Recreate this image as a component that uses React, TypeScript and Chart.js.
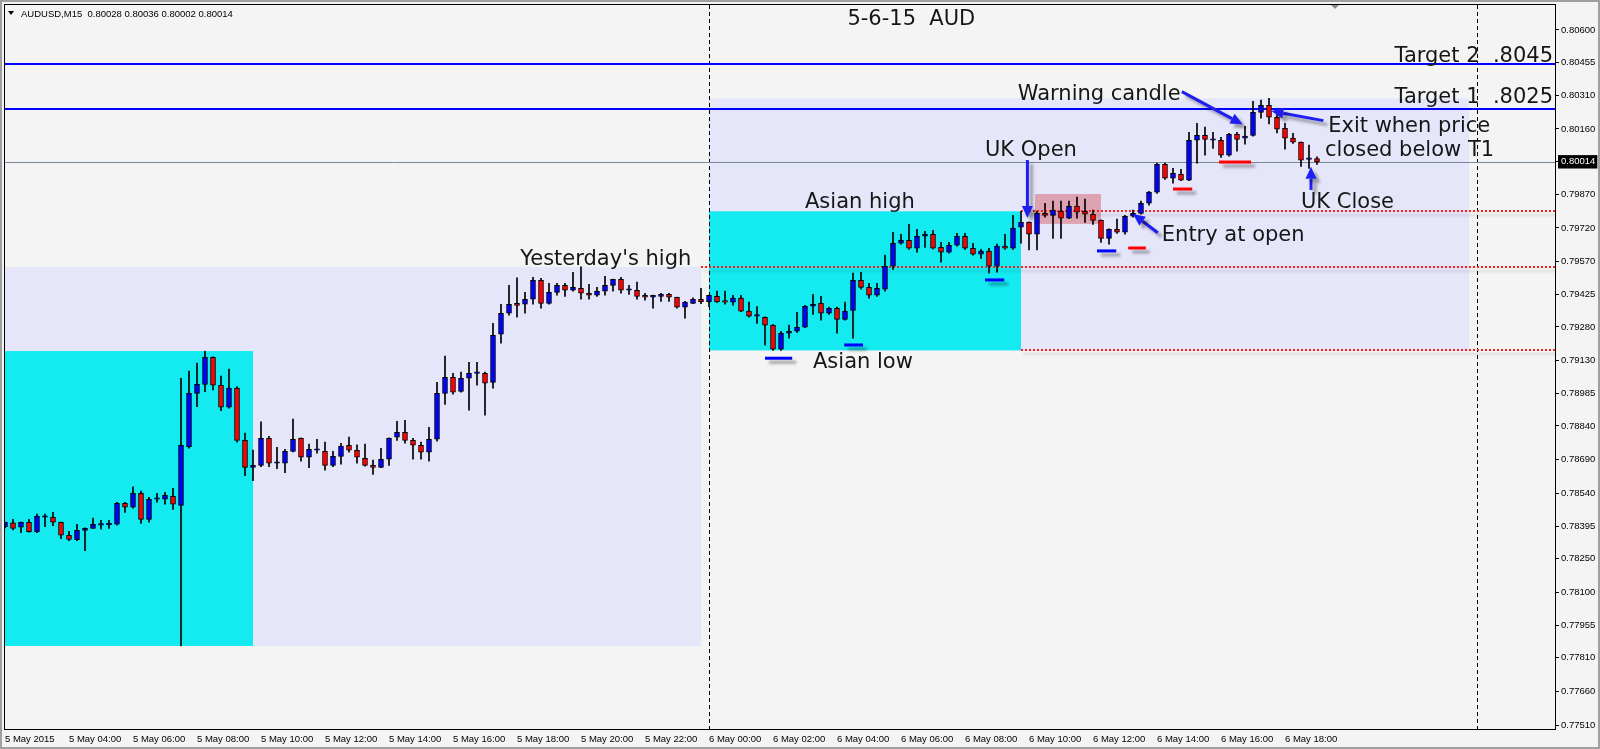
import { useEffect, useRef } from 'react';
import { Chart, registerables } from 'chart.js';

Chart.register(...registerables);

// ---- Data: AUDUSD M15, 5 May 2015 02:00 .. 6 May 2015 19:00 (index = 15-min bar) ----
const symbol = 'AUDUSD,M15';
const chartTitle = '5-6-15  AUD';

const opens = [
  0.78392, 0.78409, 0.78390, 0.78412, 0.78369, 0.78434, 0.78434, 0.78412, 0.78354, 0.78335,
  0.78376, 0.78385, 0.78399, 0.78400, 0.78403, 0.78496, 0.78479, 0.78541, 0.78425, 0.78514,
  0.78514, 0.78527, 0.78487, 0.78748, 0.78985, 0.79025, 0.79145, 0.79021, 0.78923, 0.79008,
  0.78776, 0.78656, 0.78664, 0.78785, 0.78674, 0.78674, 0.78727, 0.78785, 0.78701, 0.78732,
  0.78727, 0.78665, 0.78705, 0.78754, 0.78732, 0.78696, 0.78665, 0.78656, 0.78692, 0.78790,
  0.78812, 0.78776, 0.78754, 0.78723, 0.78781, 0.78985, 0.79056, 0.78994, 0.79052, 0.79074,
  0.79074, 0.79034, 0.79248, 0.79341, 0.79385, 0.79381, 0.79403, 0.79487, 0.79385, 0.79434,
  0.79465, 0.79443, 0.79452, 0.79430, 0.79421, 0.79439, 0.79465, 0.79492, 0.79443, 0.79443,
  0.79421, 0.79412, 0.79416, 0.79425, 0.79412, 0.79368, 0.79385, 0.79403, 0.79392, 0.79416,
  0.79394, 0.79390, 0.79408, 0.79350, 0.79328, 0.79323, 0.79288, 0.79181, 0.79252, 0.79261,
  0.79279, 0.79372, 0.79385, 0.79341, 0.79363, 0.79314, 0.79354, 0.79487, 0.79456, 0.79421,
  0.79448, 0.79550, 0.79652, 0.79665, 0.79630, 0.79683, 0.79692, 0.79634, 0.79612, 0.79643,
  0.79683, 0.79630, 0.79603, 0.79617, 0.79550, 0.79639, 0.79630, 0.79723, 0.79745, 0.79692,
  0.79785, 0.79776, 0.79794, 0.79763, 0.79817, 0.79794, 0.79781, 0.79754, 0.79674, 0.79714,
  0.79701, 0.79772, 0.79785, 0.79830, 0.79879, 0.80003, 0.79941, 0.79959, 0.79932, 0.80110,
  0.80132, 0.80110, 0.80110, 0.80043, 0.80136, 0.80119, 0.80131, 0.80234, 0.80265, 0.80212,
  0.80163, 0.80119, 0.80101, 0.80025, 0.80028,
];

const highs = [
  0.78413, 0.78425, 0.78413, 0.78425, 0.78448, 0.78448, 0.78456, 0.78413, 0.78372, 0.78403,
  0.78387, 0.78430, 0.78421, 0.78421, 0.78501, 0.78501, 0.78569, 0.78550, 0.78523, 0.78541,
  0.78545, 0.78563, 0.79052, 0.79084, 0.79119, 0.79173, 0.79147, 0.79062, 0.79093, 0.79015,
  0.78808, 0.78733, 0.78858, 0.78794, 0.78745, 0.78736, 0.78870, 0.78787, 0.78759, 0.78781,
  0.78768, 0.78727, 0.78763, 0.78790, 0.78756, 0.78759, 0.78688, 0.78741, 0.78787, 0.78861,
  0.78865, 0.78785, 0.78768, 0.78834, 0.79034, 0.79151, 0.79074, 0.79079, 0.79123, 0.79123,
  0.79079, 0.79296, 0.79381, 0.79465, 0.79498, 0.79434, 0.79501, 0.79496, 0.79474, 0.79474,
  0.79474, 0.79523, 0.79547, 0.79470, 0.79456, 0.79505, 0.79493, 0.79501, 0.79465, 0.79479,
  0.79430, 0.79422, 0.79430, 0.79430, 0.79413, 0.79394, 0.79409, 0.79452, 0.79422, 0.79439,
  0.79439, 0.79421, 0.79421, 0.79390, 0.79370, 0.79325, 0.79290, 0.79261, 0.79288, 0.79345,
  0.79376, 0.79425, 0.79416, 0.79368, 0.79368, 0.79390, 0.79519, 0.79523, 0.79474, 0.79474,
  0.79599, 0.79701, 0.79692, 0.79736, 0.79714, 0.79705, 0.79710, 0.79656, 0.79656, 0.79696,
  0.79696, 0.79652, 0.79625, 0.79630, 0.79648, 0.79692, 0.79776, 0.79794, 0.79747, 0.79794,
  0.79830, 0.79839, 0.79839, 0.79839, 0.79857, 0.79848, 0.79799, 0.79756, 0.79716, 0.79759,
  0.79776, 0.79799, 0.79839, 0.79883, 0.80008, 0.80008, 0.79985, 0.79981, 0.80145, 0.80185,
  0.80168, 0.80145, 0.80123, 0.80141, 0.80145, 0.80172, 0.80283, 0.80288, 0.80296, 0.80230,
  0.80185, 0.80141, 0.80103, 0.80088, 0.80036,
];

const lows = [
  0.78387, 0.78378, 0.78366, 0.78368, 0.78366, 0.78392, 0.78397, 0.78339, 0.78330, 0.78330,
  0.78286, 0.78383, 0.78381, 0.78384, 0.78399, 0.78456, 0.78474, 0.78407, 0.78412, 0.78501,
  0.78492, 0.78469, 0.77862, 0.78741, 0.78926, 0.78992, 0.79000, 0.78908, 0.78919, 0.78768,
  0.78619, 0.78597, 0.78659, 0.78659, 0.78650, 0.78632, 0.78725, 0.78683, 0.78655, 0.78719,
  0.78643, 0.78659, 0.78670, 0.78723, 0.78674, 0.78661, 0.78625, 0.78654, 0.78665, 0.78776,
  0.78763, 0.78692, 0.78692, 0.78683, 0.78772, 0.78936, 0.78981, 0.78990, 0.78910, 0.79021,
  0.78888, 0.79008, 0.79208, 0.79332, 0.79323, 0.79341, 0.79381, 0.79363, 0.79381, 0.79421,
  0.79416, 0.79439, 0.79403, 0.79403, 0.79416, 0.79421, 0.79439, 0.79430, 0.79425, 0.79403,
  0.79399, 0.79363, 0.79394, 0.79394, 0.79363, 0.79319, 0.79383, 0.79383, 0.79370, 0.79388,
  0.79381, 0.79376, 0.79348, 0.79323, 0.79296, 0.79199, 0.79176, 0.79176, 0.79230, 0.79256,
  0.79277, 0.79336, 0.79310, 0.79336, 0.79252, 0.79310, 0.79230, 0.79448, 0.79408, 0.79416,
  0.79439, 0.79536, 0.79648, 0.79625, 0.79612, 0.79634, 0.79627, 0.79568, 0.79608, 0.79639,
  0.79625, 0.79599, 0.79585, 0.79519, 0.79523, 0.79625, 0.79625, 0.79652, 0.79622, 0.79622,
  0.79768, 0.79674, 0.79674, 0.79761, 0.79763, 0.79745, 0.79736, 0.79656, 0.79648, 0.79696,
  0.79692, 0.79768, 0.79781, 0.79821, 0.79874, 0.79936, 0.79919, 0.79930, 0.79930, 0.80008,
  0.80043, 0.80074, 0.80034, 0.80039, 0.80061, 0.80092, 0.80128, 0.80208, 0.80182, 0.80142,
  0.80070, 0.80096, 0.79994, 0.79985, 0.80002,
];

const closes = [
  0.78412, 0.78384, 0.78412, 0.78370, 0.78439, 0.78439, 0.78412, 0.78354, 0.78336, 0.78376,
  0.78385, 0.78403, 0.78403, 0.78401, 0.78496, 0.78479, 0.78541, 0.78425, 0.78514, 0.78515,
  0.78532, 0.78492, 0.78754, 0.78985, 0.79025, 0.79145, 0.79021, 0.78923, 0.79008, 0.78776,
  0.78656, 0.78665, 0.78785, 0.78674, 0.78675, 0.78727, 0.78781, 0.78701, 0.78736, 0.78736,
  0.78665, 0.78705, 0.78750, 0.78732, 0.78701, 0.78665, 0.78656, 0.78692, 0.78785, 0.78812,
  0.78776, 0.78754, 0.78723, 0.78781, 0.78985, 0.79056, 0.78990, 0.79052, 0.79074, 0.79079,
  0.79030, 0.79243, 0.79341, 0.79381, 0.79376, 0.79403, 0.79487, 0.79385, 0.79434, 0.79465,
  0.79443, 0.79456, 0.79430, 0.79421, 0.79439, 0.79465, 0.79492, 0.79443, 0.79444, 0.79416,
  0.79412, 0.79421, 0.79425, 0.79412, 0.79368, 0.79390, 0.79403, 0.79392, 0.79421, 0.79392,
  0.79390, 0.79408, 0.79350, 0.79328, 0.79329, 0.79288, 0.79181, 0.79252, 0.79261, 0.79279,
  0.79372, 0.79381, 0.79341, 0.79363, 0.79314, 0.79350, 0.79487, 0.79456, 0.79421, 0.79452,
  0.79550, 0.79652, 0.79665, 0.79630, 0.79683, 0.79692, 0.79630, 0.79612, 0.79643, 0.79683,
  0.79630, 0.79603, 0.79617, 0.79550, 0.79639, 0.79630, 0.79719, 0.79745, 0.79692, 0.79785,
  0.79776, 0.79799, 0.79763, 0.79817, 0.79790, 0.79781, 0.79754, 0.79674, 0.79714, 0.79701,
  0.79772, 0.79785, 0.79830, 0.79879, 0.80003, 0.79941, 0.79963, 0.79932, 0.80110, 0.80132,
  0.80114, 0.80111, 0.80043, 0.80136, 0.80114, 0.80128, 0.80234, 0.80265, 0.80212, 0.80159,
  0.80119, 0.80101, 0.80021, 0.80026, 0.80014,
];

// x axis (bar index) labels
const xTickIndex = [0, 8, 16, 24, 32, 40, 48, 56, 64, 72, 80, 88, 96, 104, 112, 120, 128, 136, 144, 152, 160];
const xTickLabels = [
  '5 May 2015', '5 May 04:00', '5 May 06:00', '5 May 08:00', '5 May 10:00', '5 May 12:00',
  '5 May 14:00', '5 May 16:00', '5 May 18:00', '5 May 20:00', '5 May 22:00', '6 May 00:00',
  '6 May 02:00', '6 May 04:00', '6 May 06:00', '6 May 08:00', '6 May 10:00', '6 May 12:00',
  '6 May 14:00', '6 May 16:00', '6 May 18:00',
];
const xMin = 0;
const xMax = 193.75;

// y axis price labels
const yTickValues = [
  0.806, 0.80455, 0.8031, 0.8016, 0.80014, 0.7987, 0.7972, 0.7957, 0.79425, 0.7928, 0.7913,
  0.78985, 0.7884, 0.7869, 0.7854, 0.78395, 0.7825, 0.781, 0.77955, 0.7781, 0.7766, 0.7751,
];
const yMin = 0.77493;
const yMax = 0.80711;
const lastPrice = 0.80014;

// day separators (bar index)
const separatorIndex = [88, 184];

// rectangles: session ranges
const boxStart = [-8, 88, -8, 88, 128.75];
const boxEnd = [87, 183, 31, 127, 137];
const boxHigh = [0.79547, 0.80296, 0.79173, 0.79794, 0.79871];
const boxLow = [0.77862, 0.79176, 0.77862, 0.79176, 0.79738];
const boxColor = ['#E6E6FA', '#E6E6FA', '#14EBF1', '#14EBF1', '#DEA3B3'];

// horizontal levels
const levelPrice = [0.8045, 0.8025, 0.80014, 0.79794, 0.79547, 0.79176];
const levelFrom = [xMin, xMin, xMin, 127, 87, 127];
const levelColor = ['#0000FF', '#0000FF', '#778899', '#FF1E1E', '#FF1E1E', '#FF1E1E'];
const levelWidth = [2, 2, 1, 2, 2, 2];
const levelDotted = [false, false, false, true, true, true];

// short marker lines under candles
const markerStart = [95, 104.9, 122.5, 136.5, 140.4, 146, 151.75];
const markerEnd = [98.4, 107.25, 124.9, 138.9, 142.6, 148.4, 155.75];
const markerPrice = [0.79141, 0.792, 0.79489, 0.79618, 0.79631, 0.79893, 0.80013];
const markerColor = ['#0000FF', '#0000FF', '#0000FF', '#0000FF', '#FF0000', '#FF0000', '#FF0000'];

// arrows (tail -> head)
const arrowX0 = [127.8, 144.1, 147.1, 164.8, 163.25];
const arrowP0 = [0.80022, 0.79699, 0.80326, 0.80197, 0.79889];
const arrowX1 = [127.8, 141.0, 154.7, 158.3, 163.25];
const arrowP1 = [0.79764, 0.79782, 0.80181, 0.8024, 0.79992];

// text annotations
const noteText = [
  chartTitle, "Yesterday's high", 'Asian high', 'Asian low', 'UK Open', 'Warning candle',
  'Entry at open', 'Target 2  .8045', 'Target 1  .8025', 'Exit when price', 'closed below T1', 'UK Close',
];
const noteX = [105.3, 64.4, 100, 101, 122.5, 126.6, 144.6, 193.5, 193.5, 165.4, 165, 162];
const noteP = [0.80622, 0.79556, 0.79809, 0.79098, 0.8004, 0.80287, 0.79664, 0.80459, 0.80274, 0.80148, 0.8004, 0.79808];
const noteAlign = ['left', 'left', 'left', 'left', 'left', 'left', 'left', 'right', 'right', 'left', 'left', 'left'];

const BG = '#F4F4F4';
const NOTE_FONT = '21px "DejaVu Sans"';
const AXIS_FONT = 'Liberation Sans';

function drawArrow(ctx: CanvasRenderingContext2D, x0: number, y0: number, x1: number, y1: number) {
  const ang = Math.atan2(y1 - y0, x1 - x0);
  const hl = 12;
  const hw = 5.5;
  const bx = x1 - hl * Math.cos(ang);
  const by = y1 - hl * Math.sin(ang);
  ctx.beginPath();
  ctx.moveTo(x0, y0);
  ctx.lineTo(bx, by);
  ctx.stroke();
  ctx.beginPath();
  ctx.moveTo(x1, y1);
  ctx.lineTo(bx + hw * Math.sin(ang), by - hw * Math.cos(ang));
  ctx.lineTo(bx - hw * Math.sin(ang), by + hw * Math.cos(ang));
  ctx.closePath();
  ctx.fill();
}

const annotationPlugin = {
  id: 'mt4Annotations',
  beforeDraw(chart: any) {
    const { ctx, width, height } = chart;
    ctx.save();
    ctx.fillStyle = BG;
    ctx.fillRect(0, 0, width, height);
    ctx.restore();
  },
  beforeDatasetsDraw(chart: any) {
    const { ctx, chartArea: a, scales } = chart;
    const xs = scales.x;
    const ys = scales.y;
    ctx.save();
    ctx.beginPath();
    ctx.rect(a.left, a.top, a.right - a.left, a.bottom - a.top);
    ctx.clip();
    for (let i = 0; i < boxStart.length; i++) {
      const x0 = xs.getPixelForValue(boxStart[i]);
      const x1 = xs.getPixelForValue(boxEnd[i]);
      const y0 = ys.getPixelForValue(boxHigh[i]);
      const y1 = ys.getPixelForValue(boxLow[i]);
      ctx.fillStyle = boxColor[i];
      ctx.fillRect(x0, y0, x1 - x0, y1 - y0);
    }
    ctx.strokeStyle = '#000';
    ctx.lineWidth = 1;
    ctx.setLineDash([4, 3]);
    for (const s of separatorIndex) {
      const x = Math.round(xs.getPixelForValue(s)) + 0.5;
      ctx.beginPath();
      ctx.moveTo(x, a.top);
      ctx.lineTo(x, a.bottom);
      ctx.stroke();
    }
    ctx.setLineDash([]);
    for (let i = 0; i < levelPrice.length; i++) {
      const y = ys.getPixelForValue(levelPrice[i]);
      const x0 = Math.max(a.left, xs.getPixelForValue(levelFrom[i]));
      ctx.save();
      ctx.strokeStyle = levelColor[i];
      ctx.lineWidth = levelWidth[i];
      if (levelDotted[i]) {
        ctx.setLineDash([2, 2]);
        ctx.shadowColor = 'rgba(0,0,0,0.22)';
        ctx.shadowBlur = 3;
        ctx.shadowOffsetX = 3;
        ctx.shadowOffsetY = 4;
      }
      const yy = levelWidth[i] % 2 === 1 ? Math.round(y) + 0.5 : Math.round(y);
      ctx.beginPath();
      ctx.moveTo(x0, yy);
      ctx.lineTo(a.right, yy);
      ctx.stroke();
      ctx.restore();
    }
    ctx.restore();
  },
  afterDatasetsDraw(chart: any) {
    const { ctx, chartArea: a, scales } = chart;
    const xs = scales.x;
    const ys = scales.y;
    ctx.save();
    ctx.shadowColor = 'rgba(0,0,0,0.35)';
    ctx.shadowBlur = 3;
    ctx.shadowOffsetX = 4;
    ctx.shadowOffsetY = 4;
    ctx.lineWidth = 3;
    for (let i = 0; i < markerStart.length; i++) {
      const y = ys.getPixelForValue(markerPrice[i]);
      ctx.strokeStyle = markerColor[i];
      ctx.beginPath();
      ctx.moveTo(xs.getPixelForValue(markerStart[i]), y);
      ctx.lineTo(xs.getPixelForValue(markerEnd[i]), y);
      ctx.stroke();
    }
    ctx.strokeStyle = '#1E1EF2';
    ctx.fillStyle = '#1E1EF2';
    ctx.lineWidth = 3;
    ctx.lineCap = 'butt';
    for (let i = 0; i < arrowX0.length; i++) {
      drawArrow(
        ctx,
        xs.getPixelForValue(arrowX0[i]),
        ys.getPixelForValue(arrowP0[i]),
        xs.getPixelForValue(arrowX1[i]),
        ys.getPixelForValue(arrowP1[i]),
      );
    }
    ctx.restore();
    ctx.save();
    ctx.font = NOTE_FONT;
    ctx.fillStyle = '#161616';
    ctx.textBaseline = 'alphabetic';
    for (let i = 0; i < noteText.length; i++) {
      ctx.textAlign = noteAlign[i] as CanvasTextAlign;
      ctx.fillText(noteText[i], xs.getPixelForValue(noteX[i]), ys.getPixelForValue(noteP[i]));
    }
    ctx.restore();
    ctx.save();
    ctx.strokeStyle = '#000';
    ctx.lineWidth = 1;
    ctx.strokeRect(a.left - 0.5, a.top - 0.5, a.right - a.left + 1, a.bottom - a.top + 1);
    ctx.restore();
  },
  afterDraw(chart: any) {
    const { ctx, width, height, scales } = chart;
    ctx.save();
    ctx.fillStyle = '#A0A0A0';
    ctx.fillRect(0, 0, width, 2);
    ctx.fillRect(0, 0, 2, height);
    ctx.fillRect(width - 2, 0, 2, height);
    ctx.fillRect(0, height - 2, width, 2);
    ctx.fillStyle = '#000';
    ctx.beginPath();
    ctx.moveTo(8, 11);
    ctx.lineTo(14, 11);
    ctx.lineTo(11, 15);
    ctx.closePath();
    ctx.fill();
    const n = closes.length - 1;
    const hdr = `${symbol}  ${opens[n].toFixed(5)} ${highs[n].toFixed(5)} ${lows[n].toFixed(5)} ${closes[n].toFixed(5)}`;
    ctx.font = `9.5px "${AXIS_FONT}"`;
    ctx.textBaseline = 'alphabetic';
    ctx.textAlign = 'left';
    ctx.fillText(hdr, 21, 17);
    const sx = scales.x.getPixelForValue(166.25);
    ctx.fillStyle = '#8C8C8C';
    ctx.beginPath();
    ctx.moveTo(sx - 4, 5);
    ctx.lineTo(sx + 4, 5);
    ctx.lineTo(sx, 9);
    ctx.closePath();
    ctx.fill();
    ctx.restore();
  },
};

export default function App() {
  const ref = useRef<HTMLCanvasElement>(null);
  useEffect(() => {
    document.body.style.margin = '0';
    const canvas = ref.current;
    if (!canvas) return;
    const idx = closes.map((_, i) => i);
    const bodyColors = idx.map((i) => (closes[i] >= opens[i] ? '#0000FF' : '#FF0000'));
    const chart = new Chart(canvas, {
      type: 'bar',
      data: {
        datasets: [
          {
            label: 'body',
            data: idx.map((i) => ({ x: i, y: [Math.min(opens[i], closes[i]), Math.max(opens[i], closes[i])] })) as any,
            backgroundColor: bodyColors,
            borderColor: '#000',
            borderWidth: 1,
            borderSkipped: false,
            barThickness: 5,
            minBarLength: 1.5,
            grouped: false,
            order: 0,
          } as any,
          {
            label: 'wick',
            data: idx.map((i) => ({ x: i, y: [lows[i], highs[i]] })) as any,
            backgroundColor: '#000',
            borderWidth: 0,
            barThickness: 1,
            grouped: false,
            order: 1,
          } as any,
        ],
      },
      options: {
        responsive: false,
        animation: false,
        devicePixelRatio: 1,
        events: [],
        layout: { padding: { left: 5, top: 5, right: 0, bottom: 0 } },
        plugins: { legend: { display: false }, tooltip: { enabled: false }, title: { display: false } },
        scales: {
          x: {
            type: 'linear',
            min: xMin,
            max: xMax,
            offset: false,
            afterBuildTicks: (s: any) => {
              s.ticks = xTickIndex.map((v) => ({ value: v }));
            },
            afterFit: (s: any) => {
              s.height = 20;
              s.paddingLeft = 0;
              s.paddingRight = 0;
            },
            grid: { display: true, drawOnChartArea: false, drawTicks: false, offset: false },
            border: { display: false },
            ticks: {
              autoSkip: false,
              maxRotation: 0,
              minRotation: 0,
              align: 'start',
              padding: 5,
              color: '#000',
              font: { family: AXIS_FONT, size: 9.5 },
              callback: (_v: any, i: number) => xTickLabels[i],
            },
          } as any,
          y: {
            type: 'linear',
            position: 'right',
            min: yMin,
            max: yMax,
            afterBuildTicks: (s: any) => {
              s.ticks = yTickValues.map((v) => ({ value: v }));
            },
            afterFit: (s: any) => {
              s.width = 45;
              s.paddingTop = 0;
              s.paddingBottom = 0;
            },
            grid: { display: true, drawOnChartArea: false, drawTicks: true, tickLength: 4, tickColor: '#000', color: '#000' },
            border: { display: false },
            ticks: {
              autoSkip: false,
              padding: 2,
              font: { family: AXIS_FONT, size: 9.5 },
              color: (c: any) => (c.tick && c.tick.value === lastPrice ? '#FFFFFF' : '#000000'),
              showLabelBackdrop: (c: any) => !!(c.tick && c.tick.value === lastPrice),
              backdropColor: '#000',
              backdropPadding: { left: 3, right: 2, top: 1, bottom: 1 },
              callback: (v: any) => Number(v).toFixed(5),
            },
          } as any,
        },
      },
      plugins: [annotationPlugin],
    });
    return () => chart.destroy();
  }, []);
  return <canvas ref={ref} width={1600} height={749} style={{ display: 'block', width: '1600px', height: '749px' }} />;
}
